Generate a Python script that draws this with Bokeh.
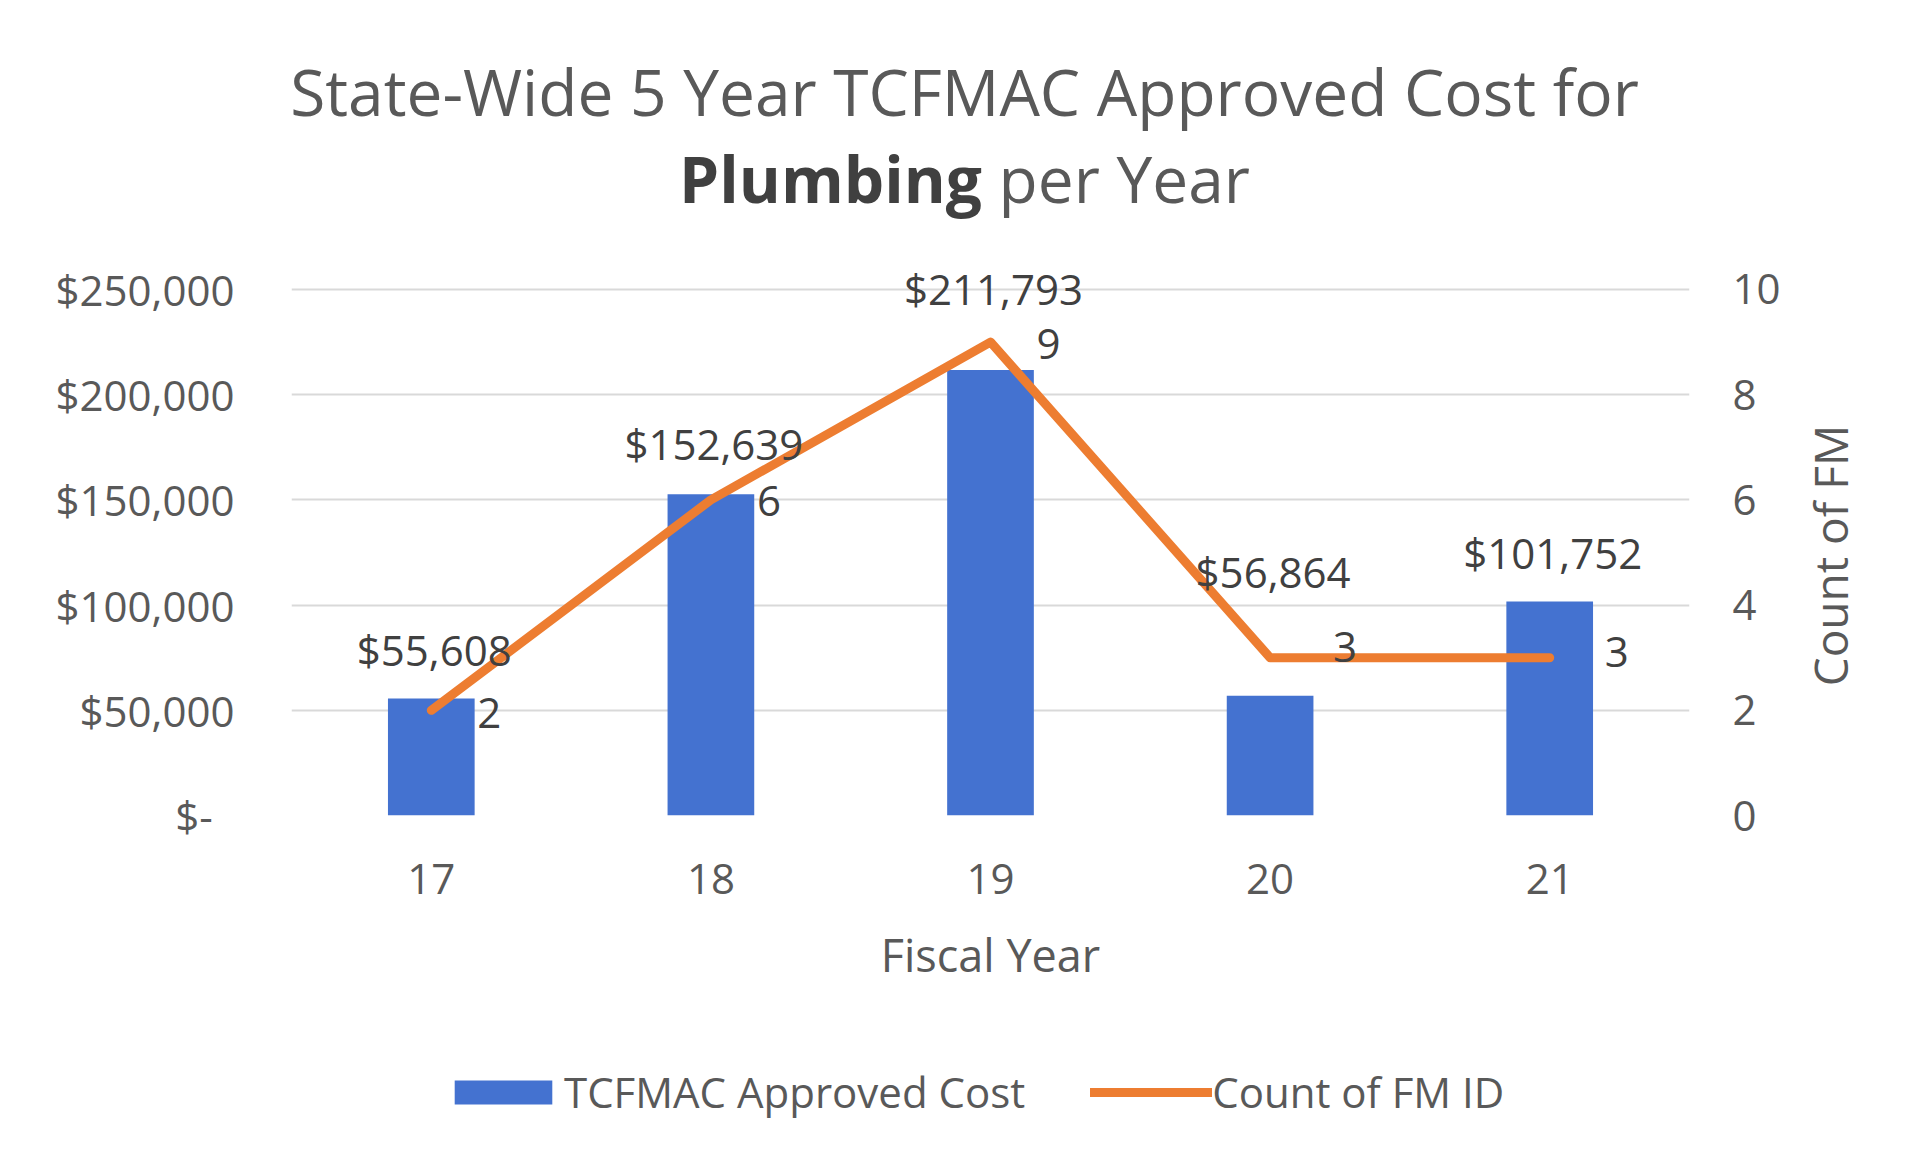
import math
from bokeh.plotting import figure
from bokeh.models import (ColumnDataSource, Range1d, LinearAxis, FixedTicker, LabelSet, Label,
                          Legend, LegendItem, FactorRange, Div)
from bokeh.layouts import column, row
from bokeh.core.properties import value
from bokeh.embed import file_html
from bokeh.resources import INLINE

# ---- data ----
years = ["17", "18", "19", "20", "21"]
approved_cost = [55608, 152639, 211793, 56864, 101752]
fm_count = [2, 6, 9, 3, 3]
cost_labels = ["$55,608", "$152,639", "$211,793", "$56,864", "$101,752"]
count_labels = ["2", "6", "9", "3", "3"]
cost_ticks = [0, 50000, 100000, 150000, 200000, 250000]
cost_tick_labels = ["$-\u00a0\u00a0", "$50,000", "$100,000", "$150,000", "$200,000", "$250,000"]
count_ticks = [0, 2, 4, 6, 8, 10]
title_line1 = "State-Wide 5 Year TCFMAC Approved Cost for"
title_bold = "Plumbing"
title_rest = "per Year"
series_names = ["TCFMAC Approved Cost", "Count of FM ID"]
right_axis_title = "Count of FM"

# label nudges (screen px), as placed in the original chart
cost_label_dy = [49, 51, 81, 124, 49]
count_label_dx = [46, 46, 46, 63, 55]
count_label_dy = [-3, -1, -2, 11, 6]

FONT = "Open Sans"
TXT = "#595959"
DARK = "#404040"
BAR = "#4472D0"
LINE = "#ED7D31"
HEADROOM = 1.0475  # a little room above the top gridline so labels are not clipped

PAGE_W, PAGE_H = 1912, 1162
SIDE_W = 122                # strip on the right holding the right-axis title
W = PAGE_W - SIDE_W
TITLE_H = 240
FIG_H = 780
LEG_H = PAGE_H - TITLE_H - FIG_H

title = Div(text=(
    f'<div style="width:{W}px;padding-left:139px;padding-top:48px;box-sizing:border-box;'
    f'text-align:center;font-family:\'Open Sans\';font-size:64px;line-height:87px;color:{TXT};'
    f'white-space:nowrap">{title_line1}<br>'
    f'<b style="color:{DARK}">{title_bold}</b> {title_rest}</div>'),
    width=W, height=TITLE_H, margin=(0, 0, 0, 0))

src = ColumnDataSource(dict(x=years, cost=approved_cost, count=fm_count,
                            clab=cost_labels, nlab=count_labels,
                            cdy=cost_label_dy, ndx=count_label_dx, ndy=count_label_dy))

p = figure(width=W, height=FIG_H, x_range=FactorRange(*years),
           y_range=Range1d(0, cost_ticks[-1] * HEADROOM),
           output_backend="svg", toolbar_location=None,
           min_border_left=291, min_border_right=W - 1689, min_border_top=24,
           min_border_bottom=FIG_H - 575)
p.extra_y_ranges = {"count": Range1d(0, count_ticks[-1] * HEADROOM)}
p.outline_line_color = None
p.background_fill_color = "white"
p.border_fill_color = "white"

bars = p.vbar(x="x", top="cost", width=0.31, source=src, fill_color=BAR, line_color=None)
line = p.line(x="x", y="count", source=src, line_color=LINE, line_width=9,
              line_join="round", line_cap="round", y_range_name="count")

# axes
p.xgrid.grid_line_color = None
p.ygrid.grid_line_color = "#D9D9D9"
p.ygrid.grid_line_width = 2
p.yaxis.ticker = FixedTicker(ticks=cost_ticks)
p.yaxis.major_label_overrides = {t: l for t, l in zip(cost_ticks, cost_tick_labels)}
for ax in [p.xaxis[0], p.yaxis[0]]:
    ax.axis_line_color = None
    ax.major_tick_line_color = None
    ax.minor_tick_line_color = None
    ax.major_label_text_font = FONT
    ax.major_label_text_font_size = "42px"
    ax.major_label_text_color = TXT
p.yaxis.major_label_standoff = 51
p.xaxis.major_label_standoff = 42
p.xaxis.axis_label = "Fiscal Year"
p.xaxis.axis_label_text_font = FONT
p.xaxis.axis_label_text_font_size = "45px"
p.xaxis.axis_label_text_font_style = "normal"
p.xaxis.axis_label_text_color = TXT
p.xaxis.axis_label_standoff = 27

rax = LinearAxis(y_range_name="count", ticker=FixedTicker(ticks=count_ticks))
rax.axis_line_color = None
rax.major_tick_line_color = None
rax.minor_tick_line_color = None
rax.major_label_text_font = FONT
rax.major_label_text_font_size = "42px"
rax.major_label_text_color = TXT
rax.major_label_standoff = 37
p.add_layout(rax, "right")

# data labels
p.add_layout(LabelSet(x="x", y="cost", text="clab", source=src, y_offset="cdy", x_offset=3,
                      text_align="center", text_baseline="middle", text_font=value(FONT),
                      text_font_size="42px", text_color=DARK))
p.add_layout(LabelSet(x="x", y="count", text="nlab", source=src, x_offset="ndx", y_offset="ndy",
                      y_range_name="count", text_align="left", text_baseline="middle",
                      text_font=value(FONT), text_font_size="42px", text_color=DARK))

# legend strip (a separate small figure under the chart; its series are not in its view)
lf = figure(width=W, height=LEG_H, x_range=FactorRange(factors=["legend"]), y_range=Range1d(0, 1),
            output_backend="svg", toolbar_location=None, min_border=0)
lf.axis.visible = False
lf.grid.visible = False
lf.outline_line_color = None
lf.border_fill_color = "white"
lbar = lf.vbar(x="x", top="cost", width=0.31, source=src, fill_color=BAR, line_color=None)
lline = lf.line(x="x", y="count", source=src, line_color=LINE, line_width=9, line_cap="round")
legend = Legend(items=[LegendItem(label=series_names[0], renderers=[lbar]),
                       LegendItem(label=series_names[1], renderers=[lline])],
                orientation="horizontal", location=(151, 42),
                label_text_font=FONT, label_text_font_size="42px", label_text_color=TXT,
                glyph_width=122, glyph_height=30, label_standoff=0, spacing=65,
                padding=0, margin=0, border_line_color=None, background_fill_alpha=0)
lf.add_layout(legend, "center")

# right strip with the secondary-axis title, reading bottom to top
rf = figure(width=SIDE_W, height=PAGE_H, x_range=Range1d(0, SIDE_W), y_range=Range1d(0, PAGE_H),
            output_backend="svg", toolbar_location=None, min_border=0)
rf.axis.visible = False
rf.grid.visible = False
rf.outline_line_color = None
rf.border_fill_color = "white"
rf.add_layout(Label(x=39, y=PAGE_H - 555, text=right_axis_title, angle=math.pi / 2,
                    text_align="center", text_baseline="middle", text_font=FONT,
                    text_font_size="46px", text_color=TXT))

layout = row(column(title, p, lf, spacing=0), rf, spacing=0)
open("out.html", "w").write(file_html(layout, INLINE))
